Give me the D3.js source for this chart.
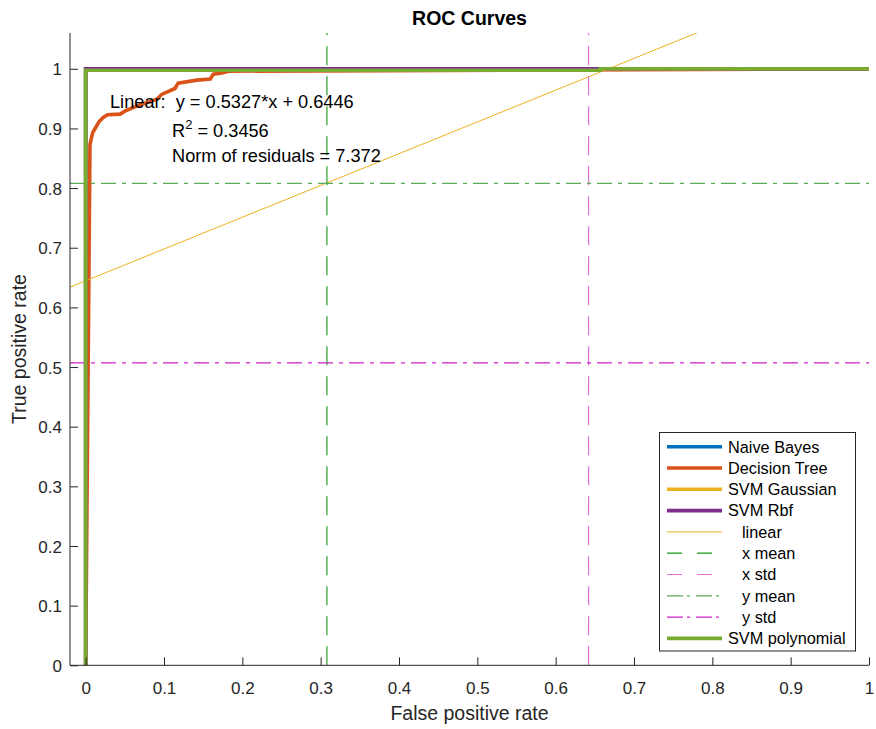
<!DOCTYPE html>
<html><head><meta charset="utf-8">
<script src="https://cdn.jsdelivr.net/npm/d3@7"></script>
<style>body{margin:0;background:#fff}svg{display:block;font-family:"Liberation Sans",Arial,Helvetica,sans-serif}</style>
</head><body>
<svg id="c" width="876" height="729"></svg>
<script>
// ---- data ----
const xTicks = [0,0.1,0.2,0.3,0.4,0.5,0.6,0.7,0.8,0.9,1];
const yTicks = [0,0.1,0.2,0.3,0.4,0.5,0.6,0.7,0.8,0.9,1];
const seriesNames = ["Naive Bayes","Decision Tree","SVM Gaussian","SVM Rbf","SVM polynomial"];
const nbFpr = [0,0,1];            const nbTpr = [0,1,1];
const dtFpr = [0,0.0055,0.0068,0.009,0.013,0.017,0.022,0.028,0.044,0.05,0.066,0.091,0.097,0.114,0.118,0.142,0.159,0.163,0.174,0.182,1];
const dtTpr = [0,0.873,0.881,0.893,0.902,0.911,0.918,0.923,0.924,0.929,0.938,0.949,0.957,0.967,0.976,0.981,0.983,0.991,0.993,0.996,1];
const sgFpr = [0,0,1];            const sgTpr = [0,1,1];
const rbfFpr = [0,0,1];           const rbfTpr = [0,1,1];
const polyFpr = [0,0,0.657,0.657,1]; const polyTpr = [0,0.9975,0.9975,1,1];
const fitSlope = 0.5327, fitIntercept = 0.6446;
const xMean = 0.308, xStd = 0.642, yMean = 0.808, yStd = 0.507;
const annot = ["Linear:  y = 0.5327*x + 0.6446", "R² = 0.3456", "Norm of residuals = 7.372"];

// ---- layout ----
const svg = d3.select("#c");
const x = d3.scaleLinear().domain([-0.02,1]).range([70,869]);
const y = d3.scaleLinear().domain([0,1.06]).range([665.3,33]);
const axisCol = "#262626";
const C = {nb:"#0072BD", dt:"#D95319", sg:"#EDB120", rbf:"#7E2F8E", poly:"#77AC30",
           lin:"#EDB120", xm:"#2a9d2a", xs:"#e070e0", ym:"#5aab5a", ys:"#cc22cc"};
const dashed = "19,11", dashdot = "15,6,4,6";

svg.append("defs").append("clipPath").attr("id","clip")
  .append("rect").attr("x",70).attr("y",33).attr("width",799).attr("height",632.3);

const g = svg.append("g").attr("clip-path","url(#clip)");
const line = d3.line().x(d=>x(d[0])).y(d=>y(d[1]));
function curve(fx, ty, col, w, dash){
  const p = g.append("path").datum(fx.map((v,i)=>[v,ty[i]])).attr("d",line)
    .attr("fill","none").attr("stroke",col).attr("stroke-width",w).attr("stroke-linejoin","miter");
  if(dash) p.attr("stroke-dasharray",dash);
  return p;
}
curve(nbFpr, nbTpr, C.nb, 3.6);
curve(dtFpr, dtTpr, C.dt, 3.6);
curve(sgFpr, sgTpr, C.sg, 3.6);
curve(rbfFpr, rbfTpr, C.rbf, 3.6);
// fitted line
const xs = [-0.02, 1];
curve(xs, xs.map(v=>fitSlope*v+fitIntercept), C.lin, 1);
// mean / std lines
curve([xMean,xMean],[0,1.06], C.xm, 1.2, dashed);
curve([xStd,xStd],[0,1.06], C.xs, 1.2, dashed);
curve([-0.02,1],[yMean,yMean], C.ym, 1.2, dashdot);
curve([-0.02,1],[yStd,yStd], C.ys, 1.2, dashdot);
curve(polyFpr, polyTpr, C.poly, 3.6);

// ---- axes ----
const xa = svg.append("g").attr("transform","translate(0,665.3)")
  .call(d3.axisBottom(x).tickValues(xTicks).tickSize(-8).tickFormat(d3.format("~g")));
const ya = svg.append("g").attr("transform","translate(70,0)")
  .call(d3.axisLeft(y).tickValues(yTicks).tickSize(-8).tickFormat(d3.format("~g")));
[xa,ya].forEach(a=>{
  a.select(".domain").attr("stroke",axisCol).attr("stroke-width",1);
  a.selectAll(".tick line").attr("stroke",axisCol);
  a.selectAll(".tick text").attr("fill",axisCol).attr("font-size",17).attr("font-family","Liberation Sans, Arial, sans-serif");
});
xa.selectAll(".tick text").attr("y",0).attr("dy",0).attr("transform","translate(0,29)");
ya.selectAll(".tick text").attr("x",-8).attr("dy","0.36em");
xa.select(".domain").attr("d","M70,0H869");
ya.select(".domain").attr("d","M0,33V665.3");

svg.append("text").attr("x",469.5).attr("y",720).attr("text-anchor","middle")
  .attr("font-size",19.5).attr("fill",axisCol).text("False positive rate");
svg.append("text").attr("transform","translate(26,349) rotate(-90)").attr("text-anchor","middle")
  .attr("font-size",19.5).attr("fill",axisCol).text("True positive rate");
svg.append("text").attr("x",469.5).attr("y",25).attr("text-anchor","middle")
  .attr("font-size",19.5).attr("font-weight","bold").attr("fill","#000").text("ROC Curves");

// annotation
const an = svg.append("g").attr("font-size",18.2).attr("fill","#000").style("white-space","pre");
an.append("text").attr("x",110).attr("y",108).attr("xml:space","preserve").text(annot[0]);
const r2 = an.append("text").attr("x",172).attr("y",137);
r2.append("tspan").text("R");
r2.append("tspan").attr("dy",-8).attr("font-size",13).text("2");
r2.append("tspan").attr("dy",8).text(annot[1].slice(2));
an.append("text").attr("x",172).attr("y",162).text(annot[2]);

// ---- legend ----
const leg = svg.append("g");
leg.append("rect").attr("x",659.5).attr("y",432.5).attr("width",196).attr("height",218.5)
  .attr("fill","#fff").attr("stroke",axisCol).attr("stroke-width",1);
const legItems = [
  {t:seriesNames[0], c:C.nb, w:3.6, ind:false},
  {t:seriesNames[1], c:C.dt, w:3.6, ind:false},
  {t:seriesNames[2], c:C.sg, w:3.6, ind:false},
  {t:seriesNames[3], c:C.rbf, w:3.6, ind:false},
  {t:"linear", c:C.lin, w:1, ind:true},
  {t:"x mean", c:"#1a9a1a", w:1.2, ind:true, d:"15,15"},
  {t:"x std", c:C.xs, w:1.2, ind:true, d:"15,15"},
  {t:"y mean", c:C.ym, w:1.2, ind:true, d:"16,4,3,6"},
  {t:"y std", c:C.ys, w:1.2, ind:true, d:"16,4,3,6"},
  {t:seriesNames[4], c:C.poly, w:3.6, ind:false}
];
legItems.forEach((it,i)=>{
  const cy = 446.7 + i*21.3;
  const l = leg.append("line").attr("x1",667).attr("x2",722).attr("y1",cy).attr("y2",cy)
    .attr("stroke",it.c).attr("stroke-width",it.w);
  if(it.d) l.attr("stroke-dasharray",it.d);
  leg.append("text").attr("x",it.ind?742:728).attr("y",cy+5.8).attr("font-size",16.3)
    .attr("fill","#000").text(it.t);
});
</script>
</body></html>
